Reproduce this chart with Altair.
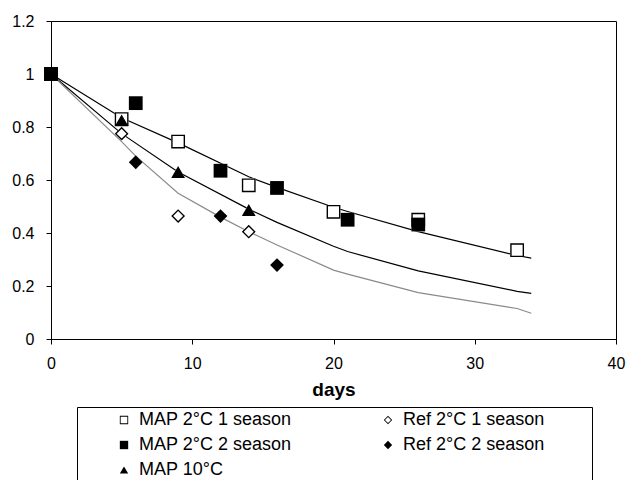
import altair as alt
import pandas as pd

# ---- data ----
series_names = ["MAP 2°C 1 season", "MAP 2°C 2 season", "MAP 10°C",
                "Ref 2°C 1 season", "Ref 2°C 2 season"]

map1_days = [0, 5, 9, 14, 20, 26, 33]
map1_vals = [1.0, 0.83, 0.745, 0.58, 0.48, 0.45, 0.335]

map2_days = [0, 6, 12, 16, 21, 26]
map2_vals = [1.0, 0.89, 0.635, 0.57, 0.45, 0.432]

map10_days = [0, 5, 9, 14]
map10_vals = [1.0, 0.825, 0.63, 0.487]

ref1_days = [5, 9, 14]
ref1_vals = [0.775, 0.464, 0.405]

ref2_days = [6, 12, 16]
ref2_vals = [0.667, 0.464, 0.279]

curve_names = ["fit MAP 2°C", "fit MAP 10°C", "fit Ref"]
curve_days = [0, 5, 9, 14, 16, 20, 21, 26, 33, 34]
curve_top = [1.0, 0.835, 0.74, 0.612, 0.572, 0.497, 0.481, 0.405, 0.315, 0.305]
curve_mid = [1.0, 0.775, 0.63, 0.49, 0.44, 0.35, 0.33, 0.257, 0.18, 0.172]
ref_curve_days = [0, 5, 6, 9, 12, 14, 16, 20, 21, 26, 33, 34]
ref_curve_vals = [1.0, 0.745, 0.69, 0.55, 0.46, 0.405, 0.355, 0.26, 0.245, 0.175, 0.115, 0.097]

x_ticks = [0, 10, 20, 30, 40]
y_ticks = [0, 0.2, 0.4, 0.6, 0.8, 1.0, 1.2]

# ---- tables ----
rows = []
for name, ds, vs in zip(series_names,
                        [map1_days, map2_days, map10_days, ref1_days, ref2_days],
                        [map1_vals, map2_vals, map10_vals, ref1_vals, ref2_vals]):
    for d, v in zip(ds, vs):
        rows.append({"series": name, "days": d, "value": v, "order": len(rows)})
points = pd.DataFrame(rows)

crows = []
for name, ds, vs in zip(curve_names,
                        [curve_days, curve_days, ref_curve_days],
                        [curve_top, curve_mid, ref_curve_vals]):
    for d, v in zip(ds, vs):
        crows.append({"curve": name, "days": d, "value": v})
curves = pd.DataFrame(crows)

FONT = "Liberation Sans"

# symbol outlines: open symbols are drawn as rings (outer path + reversed inner path)
SQUARE_RING = "M-1,-1L1,-1L1,1L-1,1Z M-0.8,-0.8L-0.8,0.8L0.8,0.8L0.8,-0.8Z"
DIAMOND_RING = "M-1,0L0,-1L1,0L0,1Z M-0.72,0L0,0.72L0.72,0L0,-0.72Z"
outline_shapes = [SQUARE_RING, "square", "triangle-up", DIAMOND_RING, "diamond"]
solid_shapes = ["square", "square", "triangle-up", "diamond", "diamond"]

xscale = alt.Scale(domain=[0, 40], nice=False)
yscale = alt.Scale(domain=[0, 1.2], nice=False)

xaxis = alt.Axis(values=x_ticks, title="days", grid=False, labelFlush=False)
yaxis = alt.Axis(values=y_ticks, title=None, grid=False, format=".1~f",
                 labelFlush=False)

lines = alt.Chart(curves).mark_line(strokeWidth=1.2).encode(
    x=alt.X("days:Q", scale=xscale, axis=xaxis),
    y=alt.Y("value:Q", scale=yscale, axis=yaxis),
    stroke=alt.Stroke("curve:N", scale=alt.Scale(domain=curve_names,
                                                 range=["black", "black", "#8a8a8a"]),
                      legend=None),
)

legend = alt.Legend(
    title="\u00a0", titleOrient="right", titlePadding=44, titleFontSize=10,
    orient="none", legendX=26, legendY=386, columns=2,
    strokeColor="black", padding=4, symbolOffset=34,
    labelFont=FONT, labelFontSize=18, labelColor="black", labelOffset=6,
    rowPadding=7, columnPadding=53, symbolSize=70,
    symbolFillColor="black", symbolStrokeWidth=0, labelLimit=400,
)

# white backing so the open symbols hide the curves behind them
backing = alt.Chart(points).mark_point(filled=True, size=190, color="white",
                                       opacity=1).encode(
    x=alt.X("days:Q", scale=xscale),
    y=alt.Y("value:Q", scale=yscale),
    shape=alt.Shape("series:N",
                    scale=alt.Scale(domain=series_names, range=solid_shapes),
                    legend=None),
    order=alt.Order("order:Q"),
)

pts = alt.Chart(points).mark_point(filled=True, size=190, color="black",
                                   opacity=1).encode(
    x=alt.X("days:Q", scale=xscale),
    y=alt.Y("value:Q", scale=yscale),
    shape=alt.Shape("series:N",
                    scale=alt.Scale(domain=series_names, range=outline_shapes),
                    legend=legend),
    order=alt.Order("order:Q"),
)

chart = alt.layer(lines, backing, pts).resolve_scale(
    stroke="independent", shape="independent"
).properties(
    width=565, height=318,
    autosize=alt.AutoSizeParams(type="none"),
    padding={"left": 43, "top": 13, "right": 10, "bottom": 141},
).configure_view(
    stroke="black", strokeWidth=1
).configure_axis(
    domainColor="black", domainWidth=1, tickColor="black", tickSize=5,
    labelFont=FONT, labelFontSize=16, labelColor="black",
    titleFont=FONT, titleColor="black",
).configure_axisX(
    labelPadding=11, titleFontSize=19, titleFontWeight="bold", titlePadding=9,
).configure_axisY(
    labelPadding=12,
)

chart.save("out.html", embed_options={"renderer": "svg", "actions": False})
